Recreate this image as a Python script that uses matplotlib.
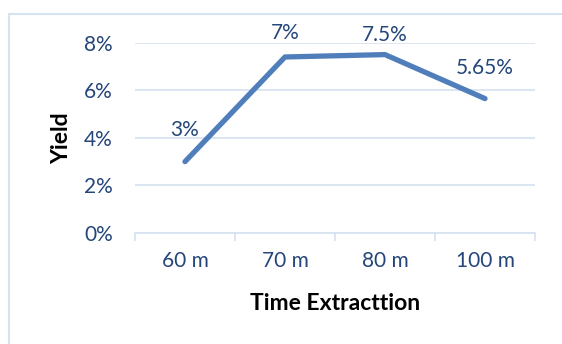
import matplotlib.pyplot as plt
from matplotlib.lines import Line2D

categories = ['60 m', '70 m', '80 m', '100 m']
yield_pct = [3.0, 7.4, 7.5, 5.65]
value_labels = ['3%', '7%', '7.5%', '5.65%']
y_ticks = [0, 2, 4, 6, 8]

plt.rcParams['font.family'] = ['Lato', 'DejaVu Sans']

text_blue = '#24467A'
grid_blue = '#D6E1F1'
line_blue = '#4F7EBB'

fig = plt.figure(figsize=(5.62, 3.44), dpi=100)
ax = fig.add_axes([135 / 562, 1 - 233 / 344, 400 / 562, (233 - 42.7) / 344])

x = list(range(len(categories)))
ax.plot(x, yield_pct, color=line_blue, linewidth=3.8, solid_capstyle='round',
        solid_joinstyle='round', zorder=3)

# label offsets in pixels (hand placed like in the source)
offsets = [(0, 32), (0, 24), (0, 20), (0, 31)]
for xi, yi, lab, off in zip(x, yield_pct, value_labels, offsets):
    ax.annotate(lab, (xi, yi), xytext=off, textcoords='offset pixels',
                ha='center', va='center', fontsize=15, color=text_blue,
                annotation_clip=False)

ax.set_xlim(-0.5, len(categories) - 0.5)
ax.set_ylim(0, 8)
ax.set_yticks(y_ticks)
ax.set_yticklabels([f'{t}%' for t in y_ticks])
ax.set_xticks(x)
ax.set_xticklabels(categories)
ax.set_xticks([i - 0.5 for i in range(len(categories) + 1)], minor=True)

ax.grid(axis='y', color=grid_blue, linewidth=1.2)
ax.set_axisbelow(True)
for s in ['top', 'right', 'left']:
    ax.spines[s].set_visible(False)
ax.spines['bottom'].set_color(grid_blue)
ax.spines['bottom'].set_linewidth(1.2)

ax.tick_params(axis='y', length=0, pad=16, labelsize=15, labelcolor=text_blue)
ax.tick_params(axis='x', which='major', length=0, pad=13, labelsize=15, labelcolor=text_blue)
ax.tick_params(axis='x', which='minor', length=6, width=1.2, color=grid_blue)

fig.text(335 / 562, 1 - 304 / 344, 'Time Extracttion', ha='center', va='center',
         fontsize=16.5, fontweight='bold', color='black')
fig.text(62 / 562, 1 - 138 / 344, 'Yield', ha='center', va='center', rotation=90,
         fontsize=16.5, fontweight='bold', color='black')

# chart area border
fig.add_artist(Line2D([9 / 562, 9 / 562], [0, 1 - 14 / 344], color=grid_blue,
                      linewidth=1.5, transform=fig.transFigure))
fig.add_artist(Line2D([9 / 562, 1], [1 - 14 / 344, 1 - 14 / 344], color=grid_blue,
                      linewidth=1.5, transform=fig.transFigure))

fig.savefig('out.png', dpi=100)
